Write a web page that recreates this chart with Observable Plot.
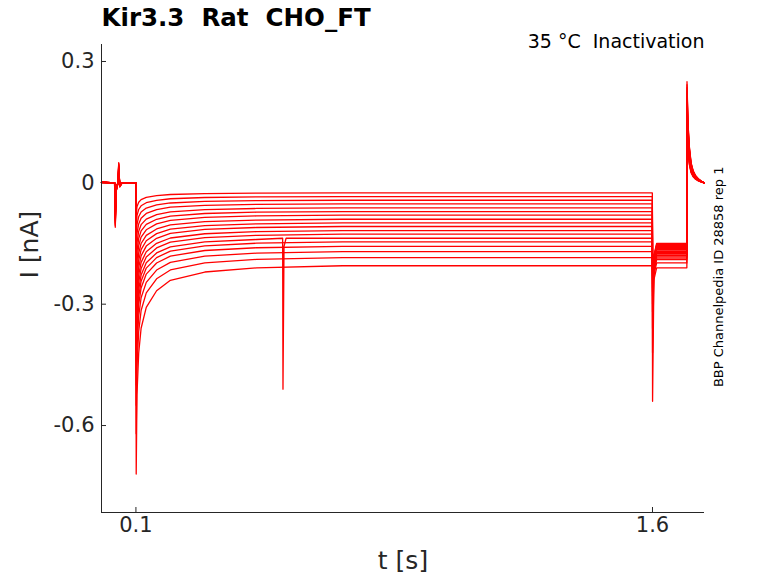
<!DOCTYPE html>
<html><head><meta charset="utf-8">
<script src="https://cdn.jsdelivr.net/npm/d3@7"></script>
<script src="https://cdn.jsdelivr.net/npm/@observablehq/plot@0.6"></script>
<style>body{margin:0;background:#fff;font-family:"DejaVu Sans",sans-serif}</style>
</head><body><div id="chart"></div>
<script>
// steady current during the 0.1-1.6 s step, one per sweep (nA)
const steady = [-0.025,-0.034,-0.043,-0.052,-0.062,-0.071,-0.080,-0.090,-0.099,-0.108,-0.118,-0.127,-0.137,-0.146,-0.157,-0.170,-0.185,-0.205];
// peak right after the onset at 0.1 s
const peak = [-0.08,-0.11,-0.14,-0.17,-0.20,-0.23,-0.26,-0.29,-0.32,-0.35,-0.38,-0.41,-0.44,-0.47,-0.50,-0.55,-0.62,-0.72];
// level during the 1.6-1.7 s step
const tail = [-0.150,-0.152,-0.155,-0.158,-0.160,-0.162,-0.165,-0.168,-0.170,-0.172,-0.175,-0.178,-0.180,-0.183,-0.186,-0.190,-0.198,-0.210];
// transient at 1.6 s
const tailSpike = [-0.20,-0.20,-0.21,-0.21,-0.22,-0.22,-0.23,-0.23,-0.24,-0.25,-0.26,-0.27,-0.28,-0.30,-0.32,-0.36,-0.42,-0.54];

// shared waveform pieces
const preT = [0, 0.038, 0.040, 0.043, 0.048, 0.050, 0.053, 0.060, 0.0995];
const preV = [0.002, 0.0, -0.11, -0.02, 0.0, 0.05, -0.01, 0.0, 0.0];
const decayT = [0.1008, 0.103, 0.108, 0.115, 0.13, 0.16, 0.2, 0.3, 0.45, 0.7, 1.0, 1.3, 1.5995];
const decayF = [1, 0.62, 0.42, 0.30, 0.20, 0.12, 0.07, 0.03, 0.01, 0, 0, 0, 0];
const postT = [1.7002, 1.703, 1.707, 1.712, 1.718, 1.725, 1.733, 1.742, 1.75];
const postV = [0.25, 0.15, 0.09, 0.05, 0.03, 0.018, 0.01, 0.004, 0.0];

const rows = [];
steady.forEach((s, i) => {
  preT.forEach((t, k) => rows.push({sweep: i, t, v: preV[k] * (0.4 + 0.6 * i / 17)}));
  decayT.forEach((t, k) => rows.push({sweep: i, t, v: s + decayF[k] * (peak[i] - s)}));
  if (i === 12) {
    rows.push({sweep: i, t: 0.526, v: s}, {sweep: i, t: 0.527, v: -0.51}, {sweep: i, t: 0.53, v: s - 0.02}, {sweep: i, t: 0.536, v: s});
  }
  rows.push({sweep: i, t: 1.6002, v: tailSpike[i]}, {sweep: i, t: 1.604, v: tail[i] - 0.03}, {sweep: i, t: 1.612, v: tail[i]}, {sweep: i, t: 1.6998, v: tail[i]});
  postT.forEach((t, k) => rows.push({sweep: i, t, v: postV[k] * (0.5 + 0.5 * i / 17)}));
});
rows.sort((a, b) => a.sweep - b.sweep || a.t - b.t);

const chart = Plot.plot({
  width: 778, height: 583,
  marginLeft: 101, marginRight: 74, marginTop: 44, marginBottom: 71,
  style: {fontFamily: "DejaVu Sans, sans-serif", fontSize: "21px", color: "#262626"},
  x: {domain: [0, 1.751], ticks: [0.1, 1.6], tickFormat: d => String(d), tickSize: -5, tickPadding: 10, label: null},
  y: {domain: [-0.815, 0.342], ticks: [0.3, 0, -0.3, -0.6], tickFormat: d => d === 0 ? "0" : String(d), tickSize: -5, tickPadding: 12, label: null},
  marks: [
    Plot.line(rows, {x: "t", y: "v", z: "sweep", stroke: "#ff0000", strokeWidth: 1.3}),
    Plot.ruleX([0], {stroke: "#262626"}),
    Plot.ruleY([-0.815], {stroke: "#262626"}),
    Plot.text(["Kir3.3  Rat  CHO_FT"], {frameAnchor: "top-left", dy: -36, fontWeight: "bold", fontSize: 24.5, fill: "#000", textAnchor: "start"}),
    Plot.text(["35 °C  Inactivation"], {frameAnchor: "top-right", dy: -10, fontSize: 19, fill: "#000", textAnchor: "end"}),
    Plot.text(["BBP Channelpedia ID 28858 rep 1"], {frameAnchor: "right", dx: 14, dy: -112, rotate: -90, fontSize: 13, fill: "#000"}),
    Plot.text(["I [nA]"], {frameAnchor: "left", dx: -72, rotate: -90, fontSize: 25}),
    Plot.text(["t [s]"], {frameAnchor: "bottom", dy: 56, fontSize: 25})
  ]
});
chart.style.overflow = "visible";
document.getElementById("chart").append(chart);
</script></body></html>
